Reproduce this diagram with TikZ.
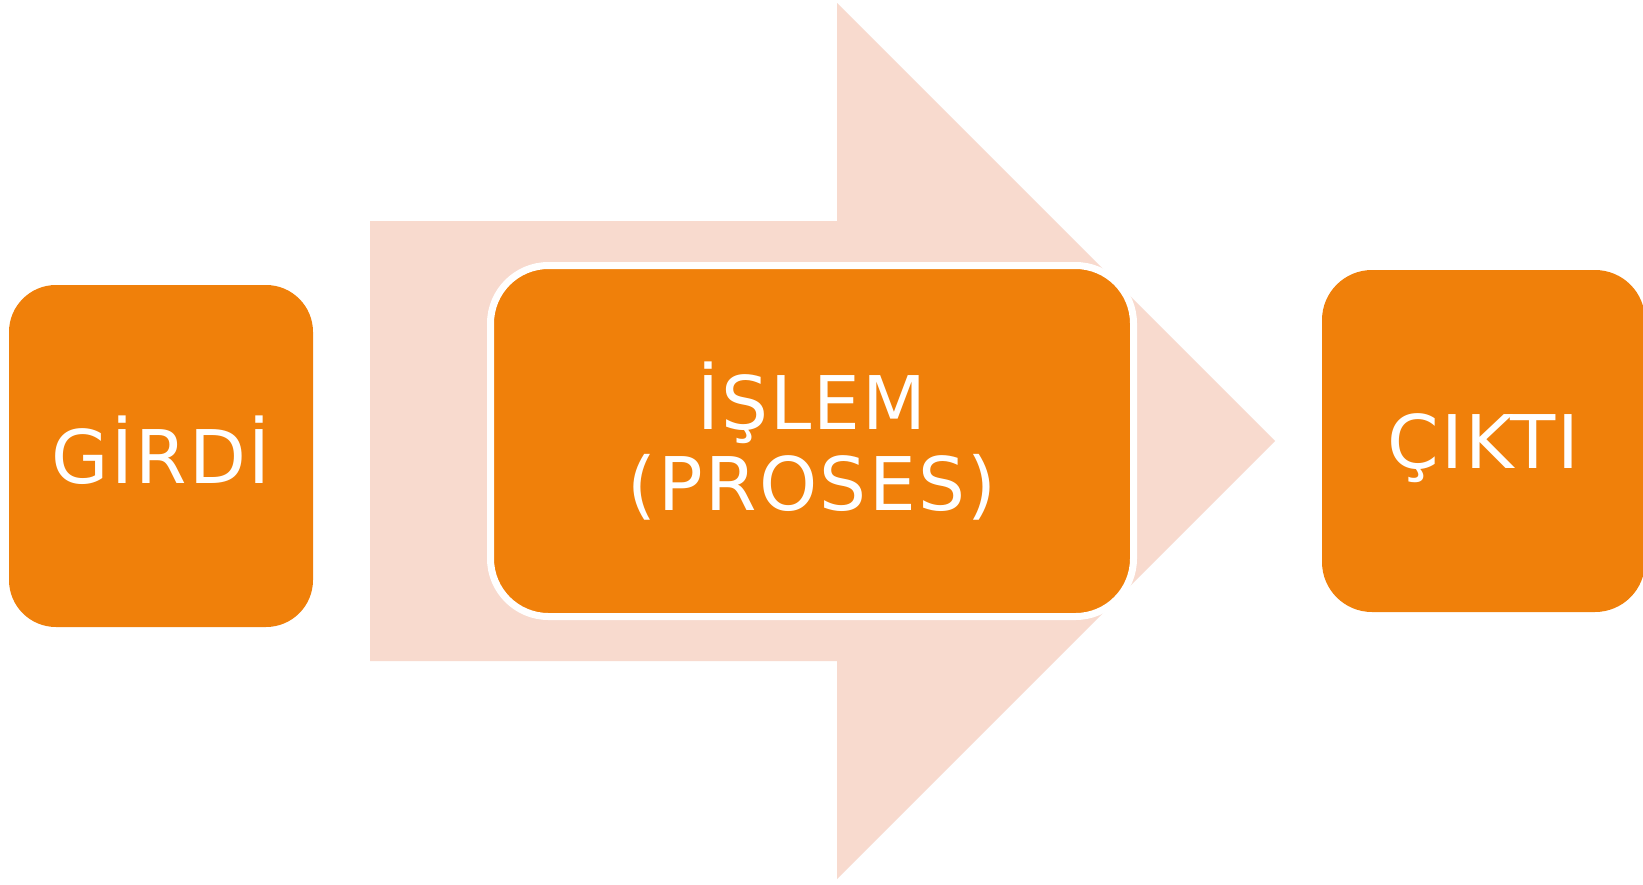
\documentclass[tikz,border=0pt]{standalone}
\usepackage{fontspec}
\setmainfont{DejaVu Sans}[LetterSpace=3]
\definecolor{boxorange}{RGB}{240,128,10}
\definecolor{arrowpink}{RGB}{248,218,206}
\begin{document}
\begin{tikzpicture}[x=0.5pt,y=-0.5pt,
  box/.style={fill=boxorange, inner sep=0pt, text=white, align=center,
    font=\fontsize{37pt}{40.5pt}\selectfont},
  oneline/.style={text height=27pt, text depth=0pt},
]
\clip (0,0) rectangle (1643,884);
\fill[white] (0,0) rectangle (1643,884);
% big background arrow
\fill[arrowpink] (370,221) -- (837,221) -- (837,3) -- (1275,441) -- (837,879) -- (837,661) -- (370,661) -- cycle;
% boxes
\node[box, oneline, rounded corners=23.5pt, minimum width=152pt, minimum height=171pt] (girdi) at (161,456) {GİRDİ};
\node[box, draw=white, line width=3.5pt, rounded corners=29pt, minimum width=321.5pt, minimum height=175.5pt] (islem) at (812,441) {İŞLEM\\(PROSES)};
\node[box, oneline, rounded corners=25pt, minimum width=161.5pt, minimum height=171pt] (cikti) at (1483.5,441) {ÇIKTI};
\end{tikzpicture}
\end{document}
